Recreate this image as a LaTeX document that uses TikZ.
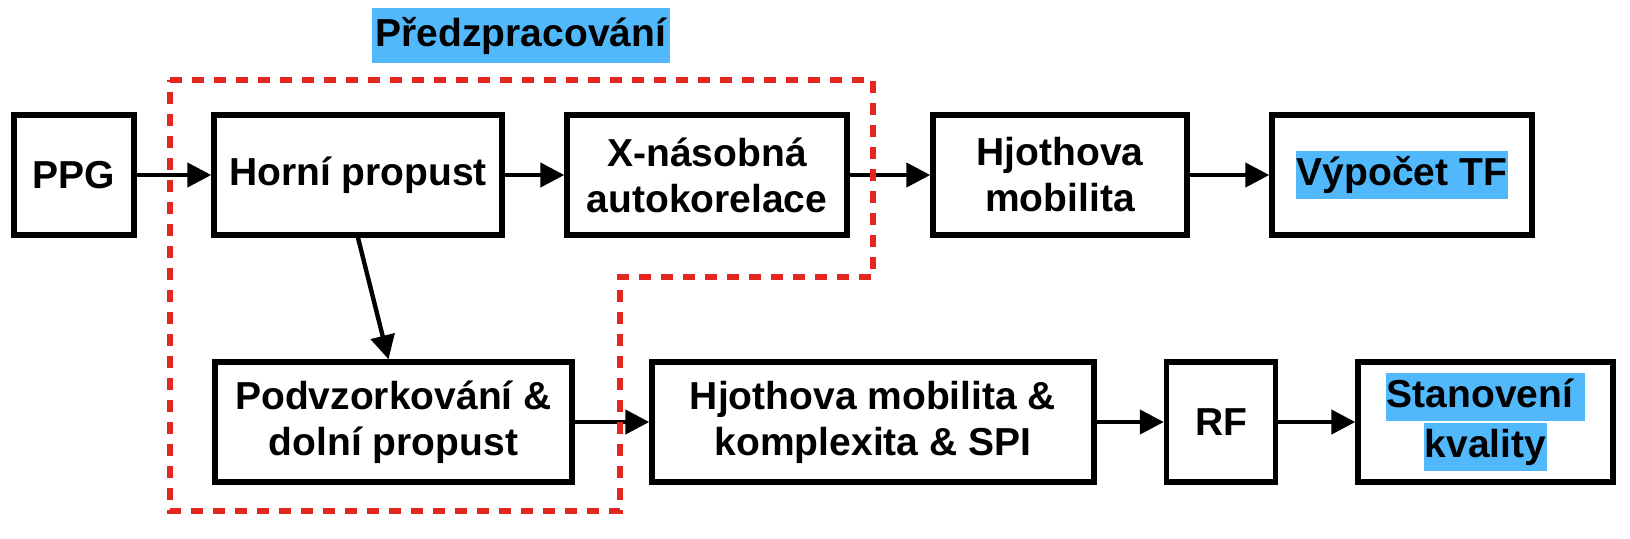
\documentclass[tikz,border=0pt]{standalone}
\usepackage{fontspec}
\setmainfont{Liberation Sans}
\usepackage{xcolor}
\usetikzlibrary{arrows.meta}
\definecolor{hlblue}{HTML}{50B8FB}
\definecolor{dashred}{HTML}{E5261F}
\setlength{\fboxsep}{0.5pt}
\newcommand{\hl}[1]{\colorbox{hlblue}{\rule[-6.5pt]{0pt}{23pt}#1}}
\tikzset{
  block/.style={draw=black, line width=2.7pt, align=center, inner sep=0pt,
    font=\fontsize{19.5}{23}\selectfont\bfseries, minimum height=60pt},
  flow/.style={draw=black, line width=2.2pt, -{Triangle[length=12pt,width=12pt]}},
  region/.style={draw=dashred, line width=2.6pt, dash pattern=on 6pt off 5pt},
  tag/.style={fill=hlblue, inner sep=0pt, minimum width=149pt, minimum height=27.5pt,
    font=\fontsize{19.5}{23}\selectfont\bfseries},
}

\begin{document}
\begin{tikzpicture}[x=0.5pt, y=-0.5pt]
  \useasboundingbox (0,0) rectangle (1630,538);

  % upper row
  \node[block, minimum width=60pt] (ppg) at (74,175) {PPG};
  \node[block, minimum width=144pt] (horni) at (358,175) {Horní propust};
  \node[block, minimum width=140pt] (xnas) at (707,175) {X-násobná\\autokorelace};
  \node[block, minimum width=127pt] (hjorth) at (1060,175) {Hjothova\\mobilita};
  \node[block, minimum width=130pt] (vypocet) at (1402,175) {\hl{Výpočet TF}};

  % lower row
  \node[block, minimum width=178.5pt] (podvz) at (393.5,422) {Podvzorkování \&\\dolní propust};
  \node[block, minimum width=221pt] (komplex) at (873,422) {Hjothova mobilita \&\\komplexita \& SPI};
  \node[block, minimum width=54.5pt] (rf) at (1221,422) {RF};
  \node[block, minimum width=127.5pt] (kvalita) at (1485.5,422) {\hl{Stanovení\ }\\\hl{kvality}};

  \draw[flow] (ppg) -- (horni);
  \draw[flow] (horni) -- (xnas);
  \draw[flow] (xnas) -- (hjorth);
  \draw[flow] (hjorth) -- (vypocet);
  \draw[flow] (horni.south) -- ([xshift=-2.5pt]podvz.north);
  \draw[flow] (podvz) -- (komplex);
  \draw[flow] (komplex) -- (rf);
  \draw[flow] (rf) -- (kvalita);

  \draw[region] (170,80) -- (873,80) -- (873,277) -- (620,277) -- (620,511) -- (170,511) -- cycle;
  \node[tag] (predz) at (521,35.5) {Předzpracování};
\end{tikzpicture}
\end{document}
